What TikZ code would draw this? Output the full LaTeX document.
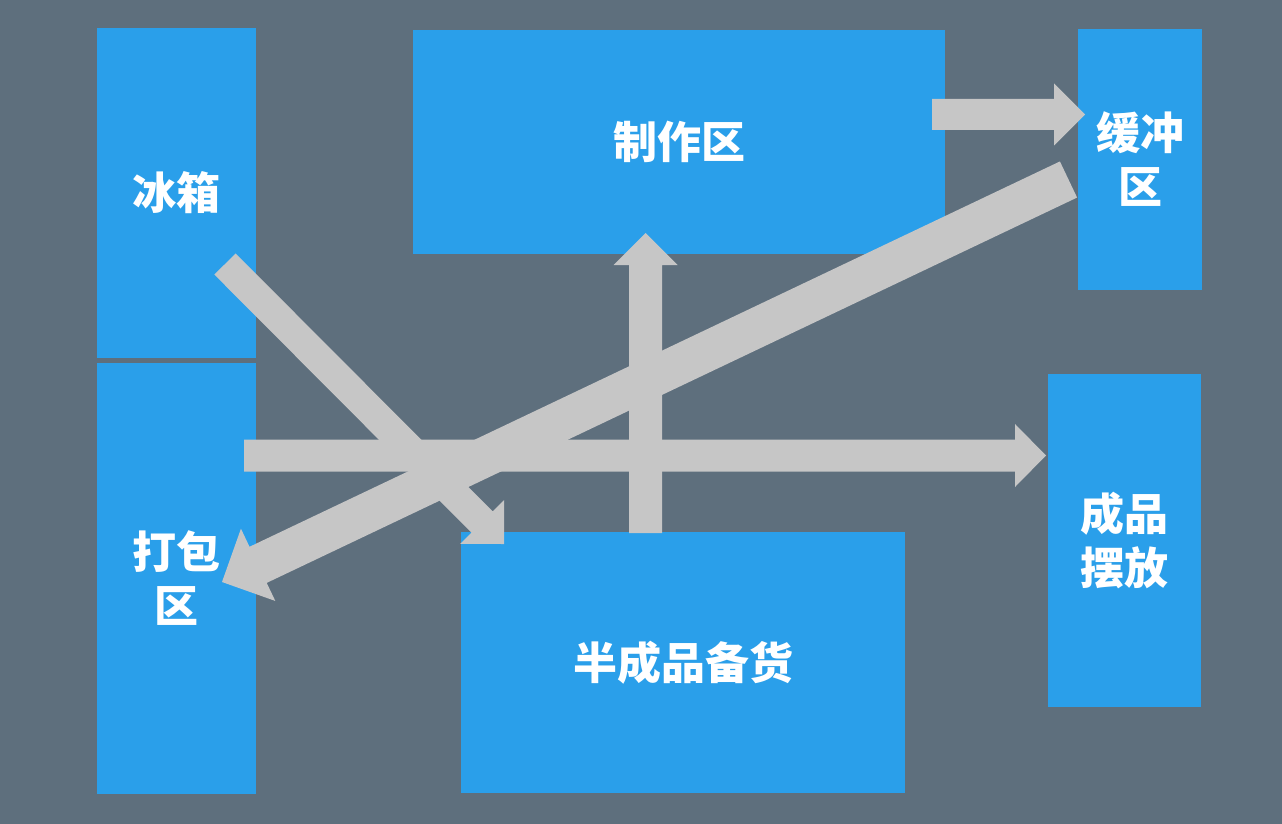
\documentclass[tikz,border=0pt]{standalone}
\usepackage{fontspec}
\newfontfamily\cjk{Noto Sans CJK SC}
\usetikzlibrary{calc}
\definecolor{bgc}{HTML}{5E6F7D}
\definecolor{boxc}{HTML}{2A9FEA}
\definecolor{arrc}{HTML}{C6C6C6}
\tikzset{
  zone/.style={fill=boxc, draw=none, inner sep=0pt, text=white, align=center,
    font=\cjk\bfseries\fontsize{44}{54}\selectfont},
  flowarrow/.style={fill=arrc, draw=none}
}
% #1 start, #2 tip, #3 shaft width, #4 head length, #5 head half width
\newcommand\fatarrow[5]{%
  \coordinate (tmpB) at ($(#2)!#4!(#1)$);
  \fill[flowarrow]
    ($(#1)!#3/2!90:(#2)$) --
    ($(tmpB)!#3/2!-90:(#1)$) --
    ($(tmpB)!#5!-90:(#1)$) --
    (#2) --
    ($(tmpB)!#5!90:(#1)$) --
    ($(tmpB)!#3/2!90:(#1)$) --
    ($(#1)!#3/2!-90:(#2)$) -- cycle;
}
\begin{document}
\begin{tikzpicture}[x=1pt,y=-1pt]
  \fill[bgc] (0,0) rectangle (1282,824);
  \useasboundingbox (0,0) rectangle (1282,824);

  % zones
  \node[zone, minimum width=159pt, minimum height=330pt] (fridge) at (176.5,193) {冰箱};
  \node[zone, minimum width=159pt, minimum height=431pt] (pack) at (176.5,578.5) {打包\\区};
  \node[zone, minimum width=532pt, minimum height=224pt] (make) at (679,142) {制作区};
  \node[zone, minimum width=124pt, minimum height=261pt] (buffer) at (1140,159.5) {缓冲\\区};
  \node[zone, minimum width=153pt, minimum height=333pt] (finished) at (1124.5,540.5) {成品\\摆放};
  \node[zone, minimum width=444pt, minimum height=261pt] (semi) at (683,662.5) {半成品备货};

  % arrow end points
  \coordinate (a1s) at (932,114.5);   \coordinate (a1e) at (1085,114.5);
  \coordinate (a2s) at (225,264);     \coordinate (a2e) at (504,544);
  \coordinate (a3s) at (645.5,533);   \coordinate (a3e) at (645.5,233);
  \coordinate (a4s) at (244,455.5);   \coordinate (a4e) at (1046,455.5);
  \coordinate (a5s) at (1068.5,179.5);\coordinate (a5e) at (222,582);

  \fatarrow{a1s}{a1e}{31pt}{31pt}{31pt}
  \fatarrow{a2s}{a2e}{30pt}{31pt}{31pt}
  \fatarrow{a3s}{a3e}{33pt}{32pt}{32pt}
  \fatarrow{a4s}{a4e}{32pt}{31pt}{31.5pt}
  \fatarrow{a5s}{a5e}{40pt}{40pt}{40pt}
\end{tikzpicture}
\end{document}
